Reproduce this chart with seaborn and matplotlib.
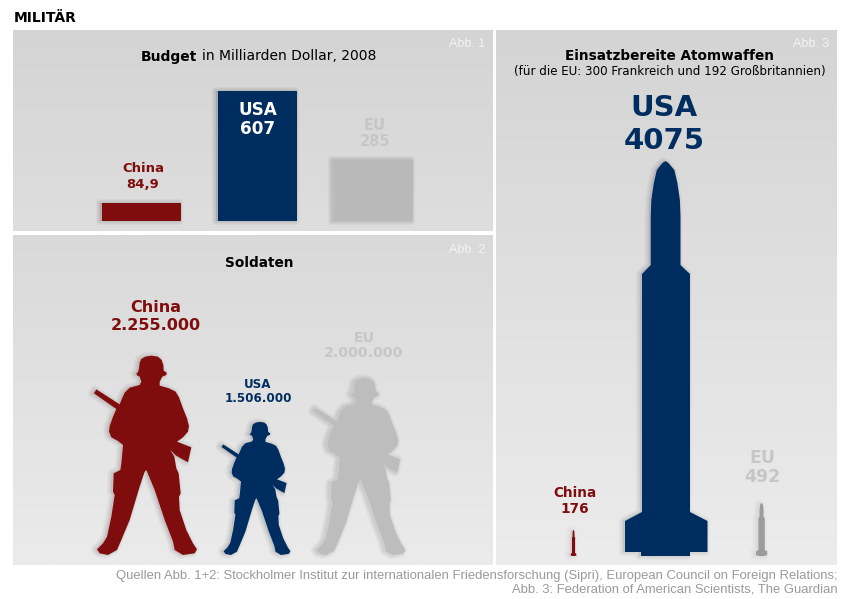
import numpy as np
import pandas as pd
import matplotlib
matplotlib.use("Agg")
import matplotlib.pyplot as plt
import matplotlib.patheffects as pe
from matplotlib.colors import LinearSegmentedColormap
import seaborn as sns

# ---- data ----
regions = ["China", "USA", "EU"]
budget = [84.9, 607, 285]
budget_labels = ["84,9", "607", "285"]
soldiers = [2255000, 1506000, 2000000]
soldier_labels = ["2.255.000", "1.506.000", "2.000.000"]
warheads = [176, 4075, 492]
warhead_labels = ["176", "4075", "492"]

# ---- style ----
RED, NAVY = "#7f0d0d", "#002d5f"
bar_colors = {"China": RED, "USA": NAVY, "EU": "#b9b9b9"}
soldier_colors = [RED, NAVY, "#bdbdbd"]
rocket_colors = [RED, NAVY, "#9c9c9c"]
EU_TXT = "#c6c6c6"

sns.set_theme(style="white")
plt.rcParams["font.family"] = ["DejaVu Sans"]

W, H = 850, 599
fig = plt.figure(figsize=(W / 100, H / 100), dpi=100, facecolor="white")

def px_axes(x0, y0, x1, y1, z=1):
    a = fig.add_axes([x0 / W, 1 - y1 / H, (x1 - x0) / W, (y1 - y0) / H], zorder=z)
    a.patch.set_alpha(0)
    return a

# pixel overlay for backgrounds
bg = px_axes(0, 0, W, H, z=0)
bg.set_xlim(0, W); bg.set_ylim(H, 0); bg.axis("off")
panels = [(13, 30, 493, 231, "#d4d4d4", "#dedede"),
          (13, 235, 493, 565, "#d9d9d9", "#ebebeb"),
          (496, 30, 837, 565, "#d4d4d4", "#ececec")]
for x0, y0, x1, y1, c0, c1 in panels:
    cm = LinearSegmentedColormap.from_list("g", [c0, c1])
    bg.imshow(np.linspace(0, 1, 256)[:, None], extent=(x0, x1, y1, y0), cmap=cm,
              aspect="auto", zorder=1, interpolation="bilinear")
bg.set_xlim(0, W); bg.set_ylim(H, 0)

def shadow(alpha=0.03, dx=-1.5, dy=0, widths=(6, 4.5, 3, 1.5)):
    fx = [pe.Stroke(linewidth=w, foreground="black", alpha=alpha, offset=(dx, dy), joinstyle="round")
          for w in widths]
    return fx + [pe.Normal()]

# ---- Abb. 1: bars through seaborn ----
ax1 = px_axes(13, 30, 493, 231, z=2)
df = pd.DataFrame({"region": regions, "budget": budget})
sns.barplot(data=df, x="region", y="budget", hue="region", palette=bar_colors, order=regions,
            width=0.68, saturation=1, legend=False, ax=ax1, linewidth=0, edgecolor="none")
PX_PER_BN = 130 / 607
ax1.set_xlim((13 - 141.5) / 116, (493 - 141.5) / 116)
ax1.set_ylim(-10 / PX_PER_BN, (221 - 30) / PX_PER_BN)
ax1.axis("off")
for p in ax1.patches:
    fc = p.get_facecolor()
    p.set_edgecolor(fc)
    p.set_linewidth(0.01)
    p.set_path_effects(shadow())

# ---- pixel overlay for pictograms and text ----
ov = px_axes(0, 0, W, H, z=3)
ov.set_xlim(0, W); ov.set_ylim(H, 0); ov.axis("off")

# silhouette templates (shape only; scaled from the values below)
soldier_shape = np.array([
    (197,50),(215,47),(235,50),(246,60),(251,75),(252,92),(261,98),(260,105),(248,110),(240,125),(240,137),
    (268,145),(288,155),(298,172),(310,205),(322,235),(328,258),(325,275),(310,292),(292,305),
    (335,322),(325,367),(288,346),(272,330),(284,350),(290,385),(297,400),(303,460),(298,470),(300,510),
    (320,570),(340,610),(352,628),(345,640),(310,645),(285,630),(280,605),(255,540),(225,450),(200,390),
    (195,395),(180,440),(150,540),(125,600),(112,630),(85,645),(60,640),(52,628),(70,610),(82,590),
    (95,530),(105,465),(100,455),(102,400),(122,390),(125,370),(130,315),(115,303),(95,292),(88,275),
    (90,258),(100,230),(110,207),(43,160),(50,148),(120,193),(125,180),(135,158),(150,143),(180,135),
    (185,125),(180,110),(172,106),(170,100),(175,97),(178,85),(180,68),(185,57)], float)
soldier_shape = (soldier_shape - [202, 645]) / 597.0

rocket_shape = np.array([
    (0,161),(-3,163),(-5.5,166),(-8.7,170),(-11.7,183),(-14.2,200),(-14.8,216),(-14.8,265),(-23.5,274),
    (-23.5,512),(-40.5,521),(-40.5,552),(-24.5,552),(-24.5,556),(24.5,556),(24.5,552),(42,552),(42,521),
    (24.5,512),(24.5,274),(15,265),(15,216),(14.4,200),(11.9,183),(8.9,170),(5.5,166),(3,163)], float)
rocket_shape[:, 1] = rocket_shape[:, 1] - 556
rocket_shape /= 395.0

# ---- Abb. 2: soldiers, height proportional to the value ----
PX_PER_SOLDIER = 199 / 2255000
soldier_x = [147, 257, 361]
for v, cx, c in zip(soldiers, soldier_x, soldier_colors):
    h = v * PX_PER_SOLDIER
    ov.fill(cx + soldier_shape[:, 0] * h, 555 + soldier_shape[:, 1] * h, color=c, lw=0,
            path_effects=shadow(0.025))

# ---- Abb. 3: rockets ----
rocket_heights = [26, 395, 53]   # drawn sizes in the original are not strictly linear
rocket_x = [573.5, 665.5, 761.5]
for v, cx, h, c in zip(warheads, rocket_x, rocket_heights, rocket_colors):
    ov.fill(cx + rocket_shape[:, 0] * h, 556 + rocket_shape[:, 1] * h, color=c, lw=0,
            path_effects=shadow(0.025 if h > 100 else 0.012))

def T(x, y, s, size, color="black", weight="bold", ha="center", va="center", **k):
    return ov.text(x, y, s, fontsize=size, color=color, fontweight=weight, ha=ha, va=va, **k)

T(14, 18, "MILITÄR", 10, ha="left")

# panel captions
for x, y, s in [(485, 44, "Abb. 1"), (485, 250, "Abb. 2"), (829, 44, "Abb. 3")]:
    T(x, y, s, 9, color="#f4f4f4", weight="normal", ha="right", family="Liberation Sans")

# titles
t = T(141, 56.5, "Budget", 10, ha="left")
fig.canvas.draw()
bb = t.get_window_extent().transformed(ov.transData.inverted())
T(bb.x1 + 5, 56.5, "in Milliarden Dollar, 2008", 10, weight="normal", ha="left")
T(259, 263, "Soldaten", 9.8)
T(670, 56.5, "Einsatzbereite Atomwaffen", 9.8)
T(670, 71, "(für die EU: 300 Frankreich und 192 Großbritannien)", 8.6, weight="normal")

# value labels, Abb. 1
T(143, 169, regions[0], 9.5, RED); T(143, 184, budget_labels[0], 9.5, RED)
T(258, 110, regions[1], 12.2, "white"); T(258, 129, budget_labels[1], 12.2, "white")
T(375, 125, regions[2], 10.5, EU_TXT); T(375, 142, budget_labels[2], 10.5, EU_TXT)

# value labels, Abb. 2
T(156, 308, regions[0], 11.5, RED); T(156, 326, soldier_labels[0], 11.5, RED)
T(258, 385, regions[1], 8.6, NAVY); T(258, 398, soldier_labels[1], 8.6, NAVY)
T(364, 338, regions[2], 10.3, EU_TXT); T(364, 353, soldier_labels[2], 10.3, EU_TXT)

# value labels, Abb. 3
T(575, 493, regions[0], 9.8, RED); T(575, 509, warhead_labels[0], 9.8, RED)
T(664, 108, regions[1], 21, NAVY); T(664, 141, warhead_labels[1], 21, NAVY)
T(762, 458, regions[2], 12.5, EU_TXT); T(762, 477, warhead_labels[2], 12.5, EU_TXT)

# sources
T(838, 576, "Quellen Abb. 1+2: Stockholmer Institut zur internationalen Friedensforschung (Sipri), European Council on Foreign Relations;",
  9.36, "#9a9a9a", "normal", ha="right", family="Liberation Sans")
T(838, 590, "Abb. 3: Federation of American Scientists, The Guardian",
  9.36, "#9a9a9a", "normal", ha="right", family="Liberation Sans")

fig.savefig("out.png", dpi=100, facecolor="white")
